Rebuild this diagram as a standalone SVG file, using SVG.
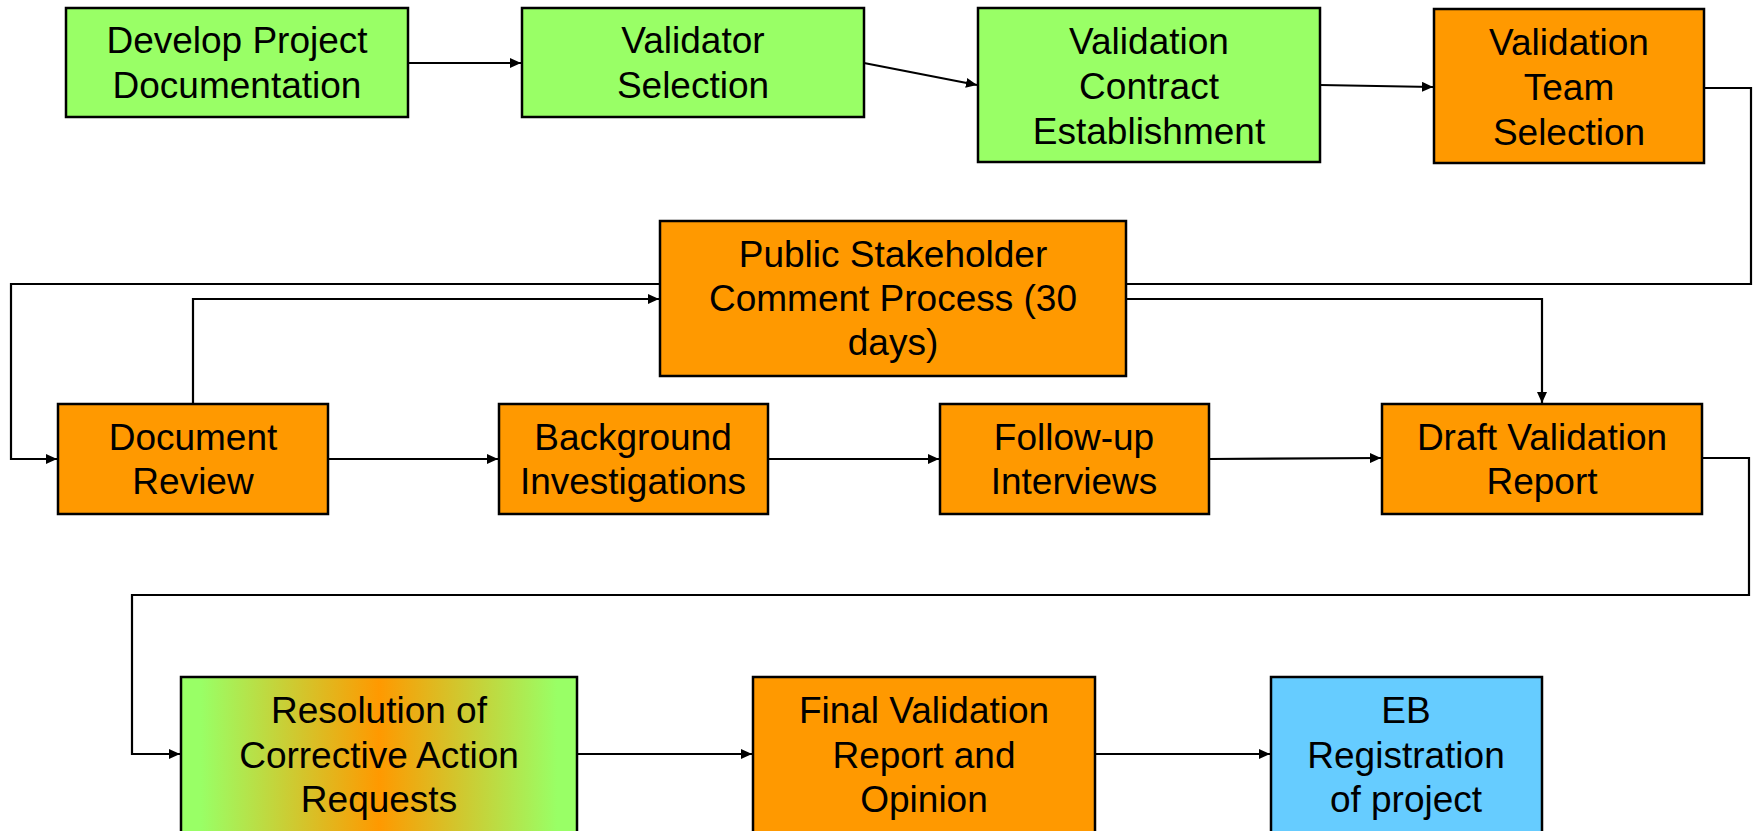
<svg xmlns="http://www.w3.org/2000/svg" width="1753" height="831" viewBox="0 0 1753 831">
<style>
  .box { stroke: #000; stroke-width: 2.5; }
  .green { fill: #99FF66; }
  .orange { fill: #FF9900; }
  .blue { fill: #66CCFF; }
  .lbl { font-family: "Liberation Sans", Arial, sans-serif; font-size: 37px; fill: #000; text-anchor: middle; }
  .conn { fill: none; stroke: #000; stroke-width: 2.2; }
</style>
<defs>
  <marker id="arr" markerUnits="userSpaceOnUse" markerWidth="12" markerHeight="10" refX="11" refY="5" orient="auto">
    <path d="M0,0 L11,5 L0,10 Z" fill="#000"/>
  </marker>
  <linearGradient id="grad" x1="0" y1="0" x2="1" y2="0">
    <stop offset="0.05" stop-color="#99FF66"/>
    <stop offset="0.5" stop-color="#FF9900"/>
    <stop offset="0.95" stop-color="#99FF66"/>
  </linearGradient>
</defs>
<rect width="1753" height="831" fill="#fff"/>
<g id="connectors">
  <path class="conn" d="M408,63 L521,63" marker-end="url(#arr)"/>
  <path class="conn" d="M864,63 L977,85" marker-end="url(#arr)"/>
  <path class="conn" d="M1320,85 L1433,87" marker-end="url(#arr)"/>
  <path class="conn" d="M1704,88 H1751 V284 H11 V459 H57" marker-end="url(#arr)"/>
  <path class="conn" d="M193,404 V299 H659" marker-end="url(#arr)"/>
  <path class="conn" d="M1126,299 H1542 V403" marker-end="url(#arr)"/>
  <path class="conn" d="M328,459 H498" marker-end="url(#arr)"/>
  <path class="conn" d="M768,459 H939" marker-end="url(#arr)"/>
  <path class="conn" d="M1209,459 L1381,458" marker-end="url(#arr)"/>
  <path class="conn" d="M1702,458 H1749 V595 H132 V754 H180" marker-end="url(#arr)"/>
  <path class="conn" d="M577,754 H752" marker-end="url(#arr)"/>
  <path class="conn" d="M1095,754 H1270" marker-end="url(#arr)"/>
</g>
<g id="n1">
  <rect class="box green" x="66" y="8" width="342" height="109"/>
  <text class="lbl" x="237" y="53">Develop Project</text>
  <text class="lbl" x="237" y="98">Documentation</text>
</g>
<g id="n2">
  <rect class="box green" x="522" y="8" width="342" height="109"/>
  <text class="lbl" x="693" y="53">Validator</text>
  <text class="lbl" x="693" y="98">Selection</text>
</g>
<g id="n3">
  <rect class="box green" x="978" y="8" width="342" height="154"/>
  <text class="lbl" x="1149" y="54">Validation</text>
  <text class="lbl" x="1149" y="99">Contract</text>
  <text class="lbl" x="1149" y="144">Establishment</text>
</g>
<g id="n4">
  <rect class="box orange" x="1434" y="9" width="270" height="154"/>
  <text class="lbl" x="1569" y="55">Validation</text>
  <text class="lbl" x="1569" y="100">Team</text>
  <text class="lbl" x="1569" y="145">Selection</text>
</g>
<g id="n5">
  <rect class="box orange" x="660" y="221" width="466" height="155"/>
  <text class="lbl" x="893" y="267">Public Stakeholder</text>
  <text class="lbl" x="893" y="311">Comment Process (30</text>
  <text class="lbl" x="893" y="355">days)</text>
</g>
<g id="n6">
  <rect class="box orange" x="58" y="404" width="270" height="110"/>
  <text class="lbl" x="193" y="450">Document</text>
  <text class="lbl" x="193" y="494">Review</text>
</g>
<g id="n7">
  <rect class="box orange" x="499" y="404" width="269" height="110"/>
  <text class="lbl" x="633" y="450">Background</text>
  <text class="lbl" x="633" y="494">Investigations</text>
</g>
<g id="n8">
  <rect class="box orange" x="940" y="404" width="269" height="110"/>
  <text class="lbl" x="1074" y="450">Follow-up</text>
  <text class="lbl" x="1074" y="494">Interviews</text>
</g>
<g id="n9">
  <rect class="box orange" x="1382" y="404" width="320" height="110"/>
  <text class="lbl" x="1542" y="450">Draft Validation</text>
  <text class="lbl" x="1542" y="494">Report</text>
</g>
<g id="n10">
  <rect class="box" fill="url(#grad)" x="181" y="677" width="396" height="158"/>
  <text class="lbl" x="379" y="723">Resolution of</text>
  <text class="lbl" x="379" y="768">Corrective Action</text>
  <text class="lbl" x="379" y="812">Requests</text>
</g>
<g id="n11">
  <rect class="box orange" x="753" y="677" width="342" height="158"/>
  <text class="lbl" x="924" y="723">Final Validation</text>
  <text class="lbl" x="924" y="768">Report and</text>
  <text class="lbl" x="924" y="812">Opinion</text>
</g>
<g id="n12">
  <rect class="box blue" x="1271" y="677" width="271" height="158"/>
  <text class="lbl" x="1406" y="723">EB</text>
  <text class="lbl" x="1406" y="768">Registration</text>
  <text class="lbl" x="1406" y="812">of project</text>
</g>
</svg>
